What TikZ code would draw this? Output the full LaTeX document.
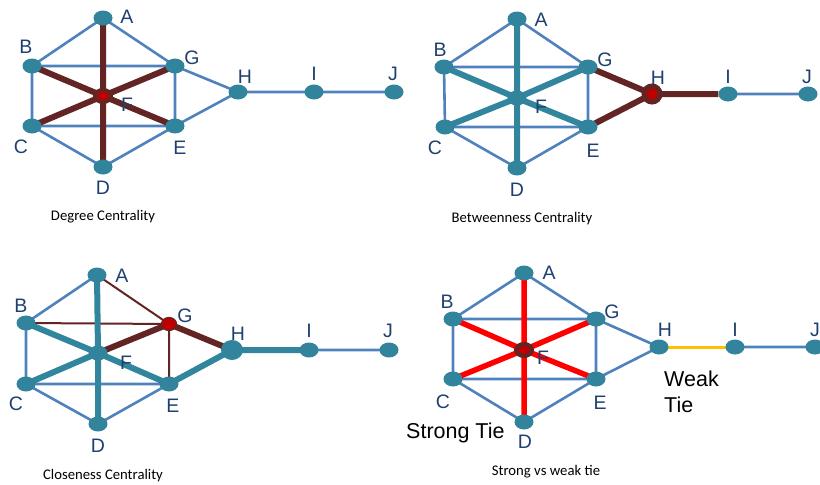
\documentclass[tikz,border=0pt]{standalone}
\usepackage{fontspec}
\setmainfont{Liberation Sans}
\newfontfamily\capfont{Carlito}
\usetikzlibrary{shapes.geometric,backgrounds}
\definecolor{nodeteal}{HTML}{31849B}
\definecolor{edgeblue}{HTML}{4F81BD}
\definecolor{brownedge}{HTML}{632523}
\definecolor{tealedge}{HTML}{31859C}
\definecolor{lblblue}{HTML}{1F3F6E}
\definecolor{hotred}{HTML}{C00000}
\definecolor{weakyel}{HTML}{FFC000}
\tikzset{
  vtx/.style={ellipse,fill=nodeteal,minimum width=19pt,minimum height=15pt,inner sep=0pt},
  bigvtx/.style={ellipse,fill=nodeteal,minimum width=22pt,minimum height=20pt,inner sep=0pt},
  hubvtx/.style={ellipse,fill=hotred,draw=brownedge,line width=4pt,minimum width=16pt,minimum height=12pt,inner sep=0pt},
  hubvtxb/.style={ellipse,fill=hotred,draw=brownedge,line width=5pt,minimum width=16pt,minimum height=16pt,inner sep=0pt},
  gvtx/.style={ellipse,fill=hotred,draw=brownedge,line width=1.2pt,minimum width=15pt,minimum height=13pt,inner sep=0pt},
  lbl/.style={text=lblblue,font=\fontsize{19.5}{22}\selectfont,inner sep=0pt},
  captxt/.style={text=black,font=\capfont\fontsize{14.7}{17}\selectfont,inner sep=0pt},
  tietxt/.style={text=black,font=\fontsize{21.5}{26}\selectfont,inner sep=0pt,anchor=west},
  bluedge/.style={draw=edgeblue,line width=2.6pt},
  thickbrown/.style={draw=brownedge,line width=6pt},
  thinbrown/.style={draw=brownedge,line width=2pt},
  thickteal/.style={draw=tealedge,line width=6pt},
  thickred/.style={draw=red,line width=5.5pt},
  weakedge/.style={draw=weakyel,line width=3pt}
}
\begin{document}
\begin{tikzpicture}[x=1pt,y=-1pt]
\useasboundingbox (0,0) rectangle (820,485);
% ---------------- Panel 1: Degree centrality
\node[vtx] (a1) at (103,18) {};
\node[vtx] (b1) at (32,66) {};
\node[vtx] (g1) at (175,66) {};
\node[hubvtx] (f1) at (103,96) {};
\node[vtx] (c1) at (32,126) {};
\node[vtx] (e1) at (175,126) {};
\node[vtx] (d1) at (103,167) {};
\node[vtx] (h1) at (238,92) {};
\node[vtx] (i1) at (314,92) {};
\node[vtx] (j1) at (394,92) {};
\begin{pgfonlayer}{background}
\draw[bluedge] (a1.center)--(b1.center) (a1.center)--(g1.center) (b1.center)--(g1.center)
  (b1.center)--(c1.center) (g1.center)--(e1.center) (c1.center)--(e1.center)
  (c1.center)--(d1.center) (d1.center)--(e1.center) (g1.center)--(h1.center)
  (e1.center)--(h1.center) (h1.center)--(i1.center) (i1.center)--(j1.center);
\draw[thickbrown] (f1.center)--(a1.center) (f1.center)--(d1.center) (f1.center)--(b1.center)
  (f1.center)--(c1.center) (f1.center)--(g1.center) (f1.center)--(e1.center);
\end{pgfonlayer}
\node[lbl] (la1) at (127,17) {A};
\node[lbl] (lb1) at (26,47) {B};
\node[lbl] (lg1) at (192,58) {G};
\node[lbl] (lh1) at (245,77) {H};
\node[lbl] (li1) at (314,74) {I};
\node[lbl] (lj1) at (393,74) {J};
\node[lbl] (lf1) at (127,105) {F};
\node[lbl] (lc1) at (21,147) {C};
\node[lbl] (le1) at (180,148) {E};
\node[lbl] (ld1) at (103,188) {D};
\node[captxt] (cap1) at (103,217) {Degree Centrality};
% ---------------- Panel 2: Betweenness centrality
\node[vtx] (a2) at (517,19) {};
\node[vtx] (b2) at (444,67) {};
\node[vtx] (g2) at (588,67) {};
\node[vtx] (f2) at (517,98) {};
\node[vtx] (c2) at (445,127) {};
\node[vtx] (e2) at (588,127) {};
\node[vtx] (d2) at (517,168) {};
\node[hubvtxb] (h2) at (652,94) {};
\node[vtx] (i2) at (728,94) {};
\node[vtx] (j2) at (808,94) {};
\begin{pgfonlayer}{background}
\draw[bluedge] (a2.center)--(b2.center) (a2.center)--(g2.center) (b2.center)--(g2.center)
  (b2.center)--(c2.center) (g2.center)--(e2.center) (c2.center)--(e2.center)
  (c2.center)--(d2.center) (d2.center)--(e2.center) (i2.center)--(j2.center);
\draw[thickteal] (f2.center)--(a2.center) (f2.center)--(d2.center) (f2.center)--(b2.center)
  (f2.center)--(c2.center) (f2.center)--(g2.center) (f2.center)--(e2.center);
\draw[thickbrown] (g2.center)--(h2.center) (e2.center)--(h2.center) (h2.center)--(i2.west);
\end{pgfonlayer}
\node[lbl] (la2) at (541,20) {A};
\node[lbl] (lb2) at (440,50) {B};
\node[lbl] (lg2) at (605,60) {G};
\node[lbl] (lh2) at (658,78) {H};
\node[lbl] (li2) at (728,77) {I};
\node[lbl] (lj2) at (807,77) {J};
\node[lbl] (lf2) at (541,107) {F};
\node[lbl] (lc2) at (435,148) {C};
\node[lbl] (le2) at (593,151) {E};
\node[lbl] (ld2) at (517,190) {D};
\node[captxt] (cap2) at (522,219) {Betweenness Centrality};
% ---------------- Panel 3: Closeness centrality
\node[vtx] (a3) at (97,275) {};
\node[vtx] (b3) at (26,323) {};
\node[gvtx] (g3) at (169,324) {};
\node[vtx] (f3) at (98,353) {};
\node[vtx] (c3) at (26,384) {};
\node[vtx] (e3) at (169,384) {};
\node[vtx] (d3) at (98,424) {};
\node[bigvtx] (h3) at (232,350) {};
\node[vtx] (i3) at (309,350) {};
\node[vtx] (j3) at (389,350) {};
\begin{pgfonlayer}{background}
\draw[bluedge] (a3.center)--(b3.center) (b3.center)--(c3.center) (c3.center)--(e3.center)
  (c3.center)--(d3.center) (d3.center)--(e3.center) (i3.center)--(j3.center);
\draw[thinbrown] (a3.center)--(g3.center) (b3.center)--(g3.center) (g3.center)--(e3.center);
\draw[thickteal] (f3.center)--(a3.center) (f3.center)--(d3.center) (f3.center)--(b3.center)
  (f3.center)--(c3.center) (f3.center)--(e3.center) (e3.center)--(h3.center) (h3.center)--(i3.center);
\draw[thickbrown] (f3.center)--(g3.center) (g3.center)--(h3.center);
\end{pgfonlayer}
\node[lbl] (la3) at (122,276) {A};
\node[lbl] (lb3) at (21,306) {B};
\node[lbl] (lg3) at (185,316) {G};
\node[lbl] (lh3) at (238,334) {H};
\node[lbl] (li3) at (309,331) {I};
\node[lbl] (lj3) at (388,331) {J};
\node[lbl] (lf3) at (126,363) {F};
\node[lbl] (lc3) at (16,404) {C};
\node[lbl] (le3) at (173,406) {E};
\node[lbl] (ld3) at (98,446) {D};
\node[captxt] (cap3) at (103,476) {Closeness Centrality};
% ---------------- Panel 4: Strong vs weak tie
\node[vtx] (a4) at (524,273) {};
\node[vtx] (b4) at (453,319) {};
\node[vtx] (g4) at (596,319) {};
\node[hubvtx] (f4) at (524,350) {};
\node[vtx] (c4) at (453,379) {};
\node[vtx] (e4) at (596,379) {};
\node[vtx] (d4) at (524,422) {};
\node[vtx] (h4) at (659,347) {};
\node[vtx] (i4) at (735,347) {};
\node[vtx] (j4) at (815,347) {};
\begin{pgfonlayer}{background}
\draw[bluedge] (a4.center)--(b4.center) (a4.center)--(g4.center) (b4.center)--(g4.center)
  (b4.center)--(c4.center) (g4.center)--(e4.center) (c4.center)--(e4.center)
  (c4.center)--(d4.center) (d4.center)--(e4.center) (g4.center)--(h4.center)
  (e4.center)--(h4.center) (i4.center)--(j4.center);
\draw[weakedge] (h4.center)--(i4.center);
\draw[thickred] (f4.center)--(a4.center) (f4.center)--(d4.center) (f4.center)--(b4.center)
  (f4.center)--(c4.center) (f4.center)--(g4.center) (f4.center)--(e4.center);
\end{pgfonlayer}
\node[lbl] (la4) at (549,273) {A};
\node[lbl] (lb4) at (447,302) {B};
\node[lbl] (lg4) at (612,312) {G};
\node[lbl] (lh4) at (665,330) {H};
\node[lbl] (li4) at (735,330) {I};
\node[lbl] (lj4) at (815,330) {J};
\node[lbl] (lf4) at (543,358) {F};
\node[lbl] (lc4) at (443,402) {C};
\node[lbl] (le4) at (600,403) {E};
\node[lbl] (ld4) at (525,442) {D};
\node[tietxt] (weak) at (664,379) {Weak};
\node[tietxt] (weak2) at (664,405) {Tie};
\node[tietxt] (strong) at (406,433) {Strong Tie};
\node[captxt] (cap4) at (546,472) {Strong vs weak tie};
\end{tikzpicture}
\end{document}
